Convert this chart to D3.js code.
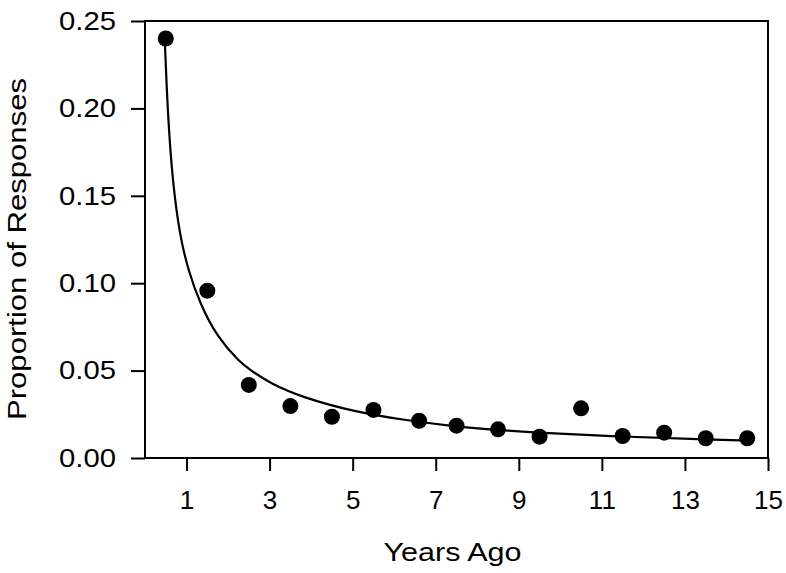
<!DOCTYPE html>
<html>
<head>
<meta charset="utf-8">
<script src="https://cdn.jsdelivr.net/npm/d3@7"></script>
<style>
  body { margin: 0; background: #fff; }
  text { font-family: "Liberation Sans", Arial, sans-serif; fill: #000; }
</style>
</head>
<body>
<div id="chart"></div>
<script>
// observed points
const yearsAgo = [0.5, 1.5, 2.5, 3.5, 4.5, 5.5, 6.6, 7.5, 8.5, 9.5, 10.5, 11.5, 12.5, 13.5, 14.5];
const proportions = [0.240, 0.0957, 0.0418, 0.0297, 0.0236, 0.0275, 0.0213, 0.0185, 0.0164, 0.0122, 0.0284, 0.0126, 0.0145, 0.0113, 0.0113];

// fitted curve
const fitX = [0.48, 0.52, 0.585, 0.68, 0.843, 1.04, 1.32, 1.73, 2.29, 2.53, 3.01, 3.81, 5.02, 6.22, 7.58, 8.07, 9.51, 11.52, 13.44, 14.49];
const fitY = [0.2372, 0.2124, 0.1838, 0.1552, 0.1266, 0.1076, 0.0885, 0.0694, 0.0545, 0.0505, 0.0427, 0.0345, 0.0266, 0.0217, 0.0178, 0.0168, 0.0143, 0.0122, 0.0107, 0.0100];

const xTicks = [1, 3, 5, 7, 9, 11, 13, 15];
const yTicks = [0, 0.05, 0.10, 0.15, 0.20, 0.25];

const width = 786;
const height = 573;
const margin = {top: 21, right: 18, bottom: 115, left: 145};
const innerW = width - margin.left - margin.right;
const innerH = height - margin.top - margin.bottom;

const svg = d3.select("#chart").append("svg")
    .attr("width", width)
    .attr("height", height);

const g = svg.append("g")
    .attr("transform", `translate(${margin.left},${margin.top})`);

const x = d3.scaleLinear().domain([0, 15]).range([0, innerW]);
const y = d3.scaleLinear().domain([0, 0.25]).range([innerH, 0]);

// y axis
const yAxis = g.append("g")
    .call(d3.axisLeft(y).tickValues(yTicks).tickFormat(d3.format(".2f")).tickSize(14).tickPadding(15));
yAxis.select(".domain").remove();
yAxis.selectAll("line").attr("stroke", "#000").attr("stroke-width", 2);
yAxis.selectAll("text")
    .attr("font-size", 26)
    .attr("font-family", "Liberation Sans, Arial, sans-serif")
    .attr("textLength", 57)
    .attr("lengthAdjust", "spacingAndGlyphs");

// x axis
const xAxis = g.append("g")
    .attr("transform", `translate(0,${innerH})`)
    .call(d3.axisBottom(x).tickValues(xTicks).tickSize(13).tickPadding(20));
xAxis.select(".domain").remove();
xAxis.selectAll("line").attr("stroke", "#000").attr("stroke-width", 2);
xAxis.selectAll("text")
    .attr("font-size", 26)
    .attr("font-family", "Liberation Sans, Arial, sans-serif");

// frame
g.append("rect")
    .attr("x", 0).attr("y", 0)
    .attr("width", innerW).attr("height", innerH)
    .attr("fill", "none")
    .attr("stroke", "#000")
    .attr("stroke-width", 2);

// fitted line
const line = d3.line()
    .x((d, i) => x(fitX[i]))
    .y((d, i) => y(fitY[i]))
    .curve(d3.curveBasis);

g.append("path")
    .datum(fitX)
    .attr("d", line)
    .attr("fill", "none")
    .attr("stroke", "#000")
    .attr("stroke-width", 2.2);

// points
g.selectAll(".dot")
    .data(yearsAgo)
    .enter().append("circle")
    .attr("class", "dot")
    .attr("cx", d => x(d))
    .attr("cy", (d, i) => y(proportions[i]))
    .attr("r", 8)
    .attr("fill", "#000");

// titles
svg.append("text")
    .attr("x", 452.5)
    .attr("y", 561)
    .attr("text-anchor", "middle")
    .attr("font-size", 26)
    .attr("textLength", 138)
    .attr("lengthAdjust", "spacingAndGlyphs")
    .text("Years Ago");

svg.append("text")
    .attr("transform", "translate(26,249) rotate(-90)")
    .attr("text-anchor", "middle")
    .attr("font-size", 26)
    .attr("textLength", 342)
    .attr("lengthAdjust", "spacingAndGlyphs")
    .text("Proportion of Responses");
</script>
</body>
</html>
